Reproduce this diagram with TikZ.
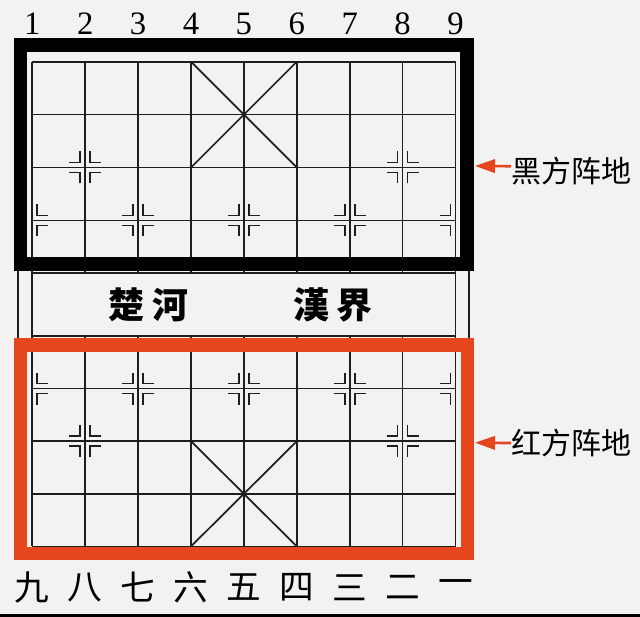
\documentclass[tikz,border=0pt]{standalone}
\usepackage{fontspec}
\newfontfamily\cjk{Noto Sans CJK SC}
\newfontfamily\digitfont{Liberation Serif}
\usetikzlibrary{arrows.meta}
\definecolor{bg}{RGB}{242,242,242}
\definecolor{gridc}{RGB}{30,30,30}
\definecolor{redc}{RGB}{230,70,30}
\tikzset{
 gridline/.style={draw=gridc,line width=1.3pt},
 markline/.style={draw=gridc,line width=1.3pt},
 border/.style={line width=10pt,line join=miter},
 arr/.style={draw=redc,line width=2pt,-{Triangle[length=15pt,width=10pt]}},
 numlab/.style={font=\digitfont\fontsize{24.5}{24.5}\selectfont,inner sep=0pt},
 cnum/.style={font=\cjk\fontsize{26}{26}\selectfont,inner sep=0pt},
 river/.style={font=\cjk\bfseries\fontsize{27}{27}\selectfont,inner sep=0pt},
 side/.style={font=\cjk\fontsize{22.5}{22.5}\selectfont,inner sep=0pt,anchor=west},
 pics/markR/.style={code={\draw[markline] (5,-16)--(5,-5)--(16,-5) (5,16)--(5,5)--(16,5);}},
 pics/markL/.style={code={\draw[markline] (-5,-16)--(-5,-5)--(-16,-5) (-5,16)--(-5,5)--(-16,5);}},
}
\begin{document}
\begin{tikzpicture}[x=0.75pt,y=-0.75pt]
\fill[bg] (0,0) rectangle (640,617);
\useasboundingbox (0,0) rectangle (640,617);
% grid top half
\foreach \k in {0,...,4} \draw[gridline] (32.3,{61.7+52.9*\k}) -- (455.5,{61.7+52.9*\k});
\foreach \i in {0,...,8} \draw[gridline] ({32.3+52.9*\i},61.7) -- ({32.3+52.9*\i},273.3);
% grid bottom half
\foreach \k in {0,...,4} \draw[gridline] (32.3,{336+52.6*\k}) -- (455.5,{336+52.6*\k});
\foreach \i in {0,...,8} \draw[gridline] ({32.3+52.9*\i},336) -- ({32.3+52.9*\i},546.4);
% river sides
\draw[gridline] (32.3,273.3) -- (32.3,336) (455.5,273.3) -- (455.5,336);
% palaces
\draw[gridline] (191,61.7) -- (296.8,167.5) (296.8,61.7) -- (191,167.5);
\draw[gridline] (191,441.2) -- (296.8,546.4) (296.8,441.2) -- (191,546.4);
% marks top
\foreach \x in {85.2,402.6} {\pic at (\x,167.5) {markL}; \pic at (\x,167.5) {markR};}
\foreach \x in {138.1,243.9,349.7} {\pic at (\x,220.4) {markL}; \pic at (\x,220.4) {markR};}
\pic at (32.3,220.4) {markR}; \pic at (455.5,220.4) {markL};
% marks bottom
\foreach \x in {85.2,402.6} {\pic at (\x,441.2) {markL}; \pic at (\x,441.2) {markR};}
\foreach \x in {138.1,243.9,349.7} {\pic at (\x,388.6) {markL}; \pic at (\x,388.6) {markR};}
\pic at (32.3,388.6) {markR}; \pic at (455.5,388.6) {markL};
% outer frame
\draw[gridline] (18.3,45) rectangle (469,553);
% borders
\draw[border,draw=black] (20.7,45) rectangle (467,264);
\draw[border,draw=redc] (20.3,345) rectangle (467.3,553.7);
% river text
\node[river] (chuhe) at (148.5,305) {楚\hspace{5.3pt}河};
\node[river] (hanjie) at (333,305) {漢\hspace{6pt}界};
% column numbers
\foreach \t [count=\i from 0] in {1,2,3,4,5,6,7,8,9}
  \node[numlab] (n\t) at ({32.3+52.9*\i},24) {\t};
\foreach \t [count=\i from 0] in {九,八,七,六,五,四,三,二,一}
  \node[cnum] (c\i) at ({32.3+52.9*\i},587.5) {\t};
% side labels
\node[side] (blab) at (511,171) {黑方阵地};
\node[side] (rlab) at (511,443) {红方阵地};
\coordinate (btip) at (475,166);
\coordinate (rtip) at (475,442.7);
\draw[arr] ([yshift=3.6pt]blab.west) -- (btip);
\draw[arr] (rlab.west) -- (rtip);
% bottom dark strip
\fill[black] (0,614) rectangle (640,617);
\end{tikzpicture}
\end{document}
